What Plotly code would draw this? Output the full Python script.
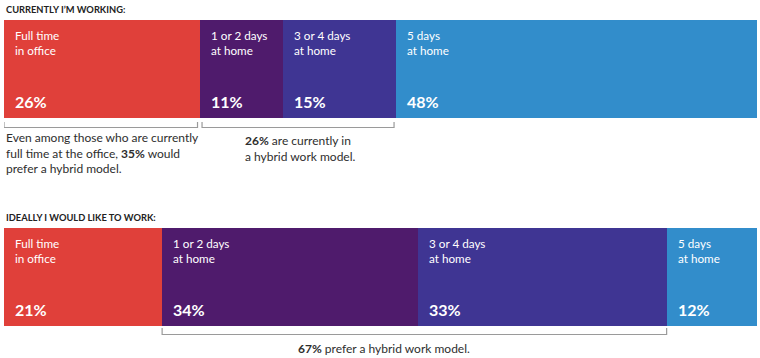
import plotly.graph_objects as go

# ---- data ----
rows = ["CURRENTLY I’M WORKING:", "IDEALLY I WOULD LIKE TO WORK:"]
categories = ["Full time<br>in office", "1 or 2 days<br>at home", "3 or 4 days<br>at home", "5 days<br>at home"]
current_pct = [26, 11, 15, 48]
ideal_pct = [21, 34, 33, 12]
note_current_office = "Even among those who are currently<br>full time at the office, <b>35%</b> would<br>prefer a hybrid model."
note_current_hybrid = "<b>26%</b> are currently in<br>a hybrid work model."
note_ideal_hybrid = "<b>67%</b> prefer a hybrid work model."

# ---- style ----
W, H = 760, 358
colors = ["#E0403A", "#4F1B6C", "#3F3593", "#328DCB"]
FONT = "Lato"
TXT = "#2e2e2e"
row_top = [20, 228]
BAR_H = 98
bar_centers = [t + BAR_H / 2 for t in row_top]

fig = go.Figure()
for i, cat in enumerate(categories):
    fig.add_trace(go.Bar(
        orientation="h",
        x=[current_pct[i], ideal_pct[i]],
        y=bar_centers,
        width=BAR_H,
        marker=dict(color=colors[i], line=dict(width=0)),
        name=cat.replace("<br>", " "),
        hoverinfo="skip",
        showlegend=False,
    ))

ann = []
# row titles
for r, title in enumerate(rows):
    ann.append(dict(text=f"<b>{title}</b>", x=4 / W, xref="paper", xanchor="left",
                    y=row_top[r] - 10.5, yref="y", yanchor="middle", showarrow=False,
                    font=dict(family=FONT, size=9.3, color="#222222")))

# segment labels
for r, vals in enumerate([current_pct, ideal_pct]):
    start = 0
    for i, v in enumerate(vals):
        ann.append(dict(text=categories[i], x=start, xref="x", xanchor="left", xshift=9,
                        y=row_top[r] + 22.5, yref="y", yanchor="middle", showarrow=False,
                        align="left", font=dict(family=FONT, size=11.7, color="white")))
        ann.append(dict(text=f"<b>{v}%</b>", x=start, xref="x", xanchor="left", xshift=9,
                        y=row_top[r] + 81.5, yref="y", yanchor="middle", showarrow=False,
                        font=dict(family=FONT, size=16, color="white")))
        start += v

# notes
ann.append(dict(text=note_current_office, x=4 / W, xref="paper", xanchor="left",
                y=153, yref="y", yanchor="middle", showarrow=False, align="left",
                font=dict(family=FONT, size=12, color=TXT)))
ann.append(dict(text=note_current_hybrid, x=243 / W, xref="paper", xanchor="left",
                y=148.5, yref="y", yanchor="middle", showarrow=False, align="left",
                font=dict(family=FONT, size=12, color=TXT)))
hyb_start = ideal_pct[0]
hyb_end = ideal_pct[0] + ideal_pct[1] + ideal_pct[2]
ann.append(dict(text=note_ideal_hybrid, x=(hyb_start + hyb_end) / 2 - 4, xref="x", xanchor="center",
                y=348.5, yref="y", yanchor="middle", showarrow=False,
                font=dict(family=FONT, size=12, color=TXT)))

# brackets
def bracket(x0, x1, ytop, ybot):
    return dict(type="path", xref="x", yref="y",
                path=f"M {x0},{ytop} L {x0},{ybot} L {x1},{ybot} L {x1},{ytop}",
                line=dict(color="#9a9a9a", width=1.2))

c0 = current_pct[0]
c2 = current_pct[0] + current_pct[1] + current_pct[2]
shapes = [
    bracket(0, c0 - 0.3, 122, 127.5),
    bracket(c0 + 0.3, c2 - 0.2, 122, 127.5),
    bracket(hyb_start, hyb_end, 328, 334.5),
]

fig.update_layout(
    width=W, height=H,
    margin=dict(l=0, r=0, t=0, b=0),
    paper_bgcolor="white", plot_bgcolor="white",
    barmode="stack", bargap=0,
    xaxis=dict(range=[0, 100], domain=[4 / W, 757 / W], visible=False, fixedrange=True),
    yaxis=dict(range=[H, 0], domain=[0, 1], visible=False, fixedrange=True),
    annotations=ann,
    shapes=shapes,
    font=dict(family=FONT),
)

fig.write_html("out.html",
               config={"displayModeBar": False},
               post_script="document.body.style.margin='0';document.body.style.padding='0';")
